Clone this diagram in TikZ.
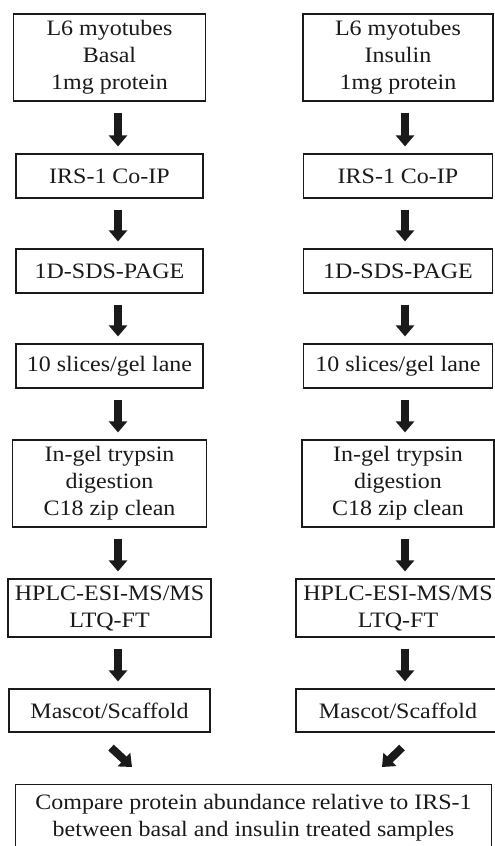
\documentclass[tikz,border=0pt]{standalone}
\usepackage{fontspec}
\setmainfont{Liberation Serif}[FakeStretch=1.09]
\usetikzlibrary{arrows.meta}
\definecolor{ink}{HTML}{1A1A1A}
\begin{document}
\begin{tikzpicture}[x=1pt,y=-1pt,
 box/.style={draw=ink, line width=1.2pt, inner sep=0pt, align=center, font=\fontsize{22}{27}\selectfont, text=ink},
 bigarrow/.style={draw=ink, line width=8pt, -{Triangle[width=18pt,length=11pt]}, shorten <=11pt, shorten >=7pt},
 diagarrow/.style={draw=ink, line width=8pt, -{Triangle[width=18pt,length=11pt]}}
]
\useasboundingbox (0,0) rectangle (495,846);
\clip (0,0) rectangle (495,846);
\fill[white] (0,0) rectangle (495,846);
% left column
\node[box, minimum width=192pt, minimum height=87pt] (L1) at (109.5,57.5) {L6 myotubes\\Basal\\1mg protein};
\node[box, minimum width=187pt, minimum height=44pt] (L2) at (109.5,176) {IRS-1 Co-IP};
\node[box, minimum width=187pt, minimum height=44pt] (L3) at (109.5,271) {1D-SDS-PAGE};
\node[box, minimum width=187pt, minimum height=44pt] (L4) at (109.5,366) {10 slices/gel lane};
\node[box, minimum width=194pt, minimum height=87pt] (L5) at (109.5,483.5) {In-gel trypsin\\digestion\\C18 zip clean};
\node[box, minimum width=203pt, minimum height=58pt] (L6) at (109.5,608) {HPLC-ESI-MS/MS\\LTQ-FT};
\node[box, minimum width=201pt, minimum height=43pt] (L7) at (109.5,710.5) {Mascot/Scaffold};
% right column
\node[box, minimum width=190pt, minimum height=87pt] (R1) at (398,57.5) {L6 myotubes\\Insulin\\1mg protein};
\node[box, minimum width=189pt, minimum height=44pt] (R2) at (398,176) {IRS-1 Co-IP};
\node[box, minimum width=189pt, minimum height=44pt] (R3) at (398,271) {1D-SDS-PAGE};
\node[box, minimum width=189pt, minimum height=44pt] (R4) at (398,366) {10 slices/gel lane};
\node[box, minimum width=192pt, minimum height=87pt] (R5) at (398,483.5) {In-gel trypsin\\digestion\\C18 zip clean};
\node[box, minimum width=204pt, minimum height=58pt] (R6) at (398,608) {HPLC-ESI-MS/MS\\LTQ-FT};
\node[box, minimum width=204pt, minimum height=43pt] (R7) at (398,710.5) {Mascot/Scaffold};
% bottom
\node[box, anchor=north, minimum width=476pt, inner ysep=10pt] (bot) at (253.5,784) {Compare protein abundance relative to IRS-1\\between basal and insulin treated samples};
% arrows
\foreach \a/\b in {L1/L2,L2/L3,L3/L4,L4/L5,L5/L6,L6/L7}
  \draw[bigarrow] ([xshift=8.5pt]\a.south) -- ([xshift=8.5pt]\b.north);
\foreach \a/\b in {R1/R2,R2/R3,R3/R4,R4/R5,R5/R6,R6/R7}
  \draw[bigarrow] ([xshift=7pt]\a.south) -- ([xshift=7pt]\b.north);
\draw[diagarrow] ([shift={(1.5,15)}]L7.south) -- ([shift={(-121.5,-17)}]bot.north);
\draw[diagarrow] ([shift={(4,15)}]R7.south) -- ([shift={(128.5,-17)}]bot.north);
\end{tikzpicture}
\end{document}
